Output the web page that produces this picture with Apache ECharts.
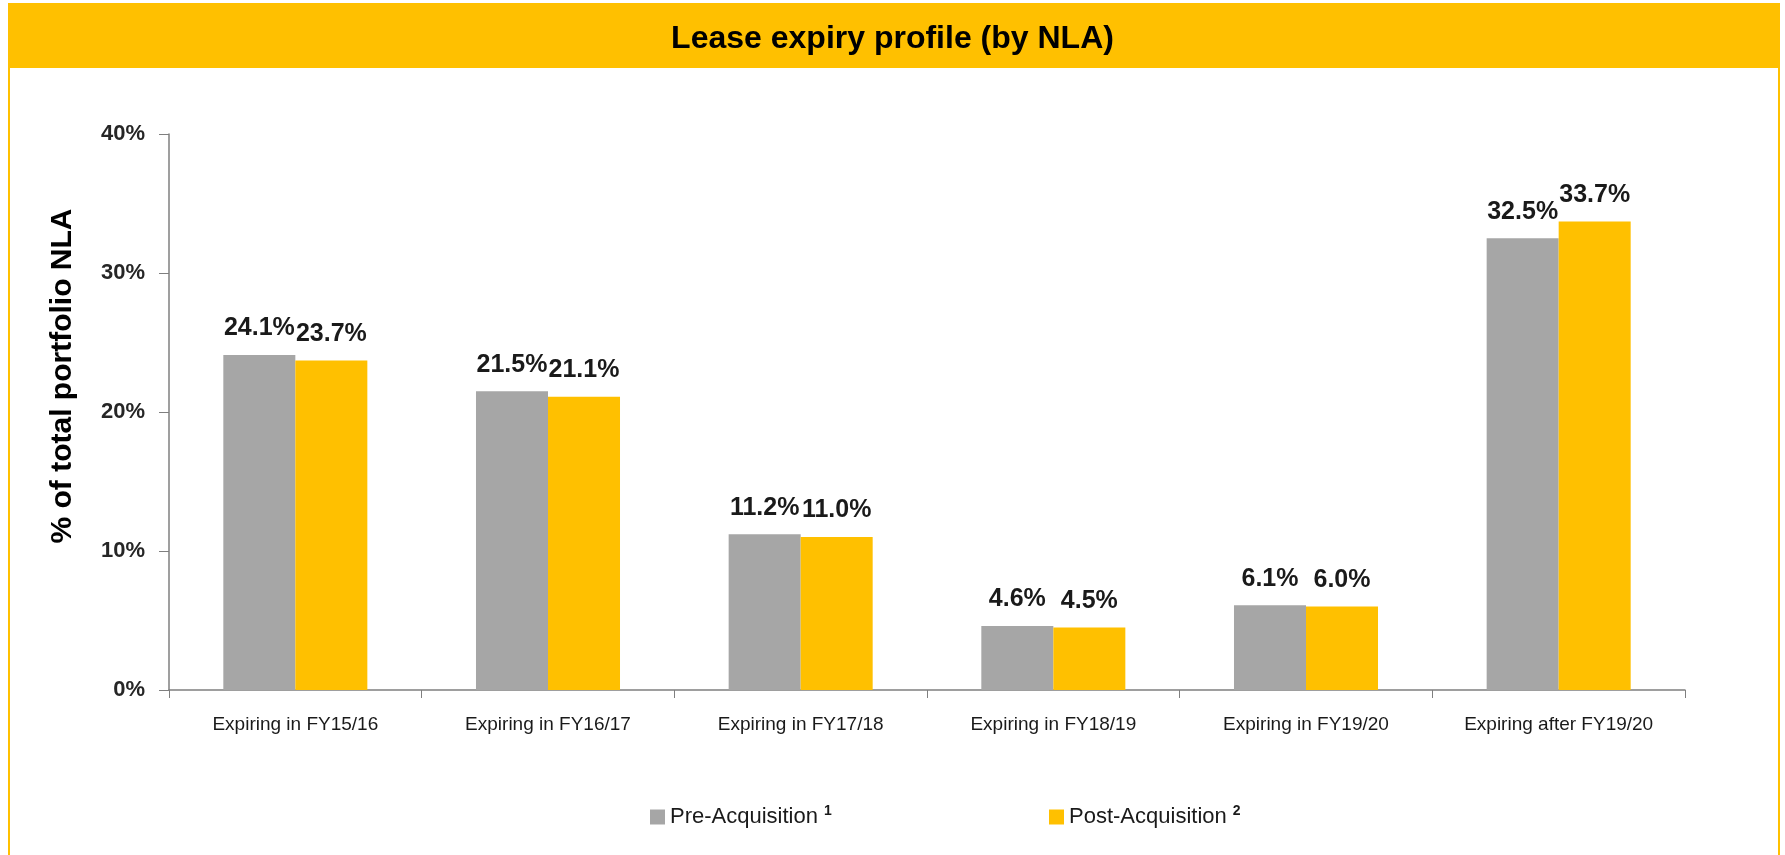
<!DOCTYPE html>
<html>
<head>
<meta charset="utf-8">
<script src="https://cdn.jsdelivr.net/npm/echarts@6/dist/echarts.min.js"></script>
<style>
  html, body { margin: 0; padding: 0; background: #fff; }
  #main { width: 1785px; height: 855px; }
</style>
</head>
<body>
<div id="main"></div>
<script>
// chart data
var categories = ['Expiring in FY15/16', 'Expiring in FY16/17', 'Expiring in FY17/18', 'Expiring in FY18/19', 'Expiring in FY19/20', 'Expiring after FY19/20'];
var preAcq = [24.1, 21.5, 11.2, 4.6, 6.1, 32.5];
var postAcq = [23.7, 21.1, 11.0, 4.5, 6.0, 33.7];
var yTicks = [0, 10, 20, 30, 40];

var font = "'Liberation Sans Narrow', 'Arial Narrow', 'Liberation Sans', sans-serif";
var gold = '#FFC000';
var grey = '#A6A6A6';

var chart = echarts.init(document.getElementById('main'));

var labelStyle = {
  show: true,
  position: 'top',
  distance: 14,
  fontFamily: font,
  fontWeight: 'bold',
  fontSize: 25,
  color: '#1a1a1a',
  formatter: function (p) { return p.value.toFixed(1) + '%'; }
};

var legendBase = {
  bottom: 22,
  itemWidth: 15,
  itemHeight: 15,
  icon: 'rect',
  textStyle: {
    fontFamily: font,
    fontSize: 22,
    color: '#1a1a1a',
    rich: {
      sup: { fontFamily: font, fontSize: 14, fontWeight: 'bold', verticalAlign: 'top', padding: [0, 0, 12, 0], color: '#1a1a1a' }
    }
  }
};

var option = {
  backgroundColor: '#fff',
  graphic: [
    { type: 'rect', shape: { x: 9, y: 4, width: 1770, height: 900 }, style: { fill: 'none', stroke: gold, lineWidth: 2 }, z: 1 },
    { type: 'rect', shape: { x: 9, y: 4, width: 1770, height: 64 }, style: { fill: gold }, z: 1 }
  ],
  title: {
    text: 'Lease expiry profile (by NLA)',
    left: 'center',
    top: 18,
    textStyle: { fontFamily: font, fontWeight: 'bold', fontSize: 32, color: '#000' }
  },
  legend: [
    Object.assign({}, legendBase, {
      left: 645,
      data: ['Pre-Acquisition'],
      formatter: function (n) { return n + ' {sup|1}'; }
    }),
    Object.assign({}, legendBase, {
      left: 1044,
      data: ['Post-Acquisition'],
      formatter: function (n) { return n + ' {sup|2}'; }
    })
  ],
  grid: { left: 169, right: 100, top: 134, bottom: 165, containLabel: false },
  xAxis: {
    type: 'category',
    data: categories,
    axisLine: { lineStyle: { color: '#7f7f7f', width: 1.5 } },
    axisTick: { show: true, length: 8, lineStyle: { color: '#7f7f7f' } },
    axisLabel: { fontFamily: font, fontSize: 19, color: '#1a1a1a', margin: 25, interval: 0 }
  },
  yAxis: {
    type: 'value',
    min: yTicks[0],
    max: yTicks[yTicks.length - 1],
    interval: 10,
    name: '% of total portfolio NLA',
    nameLocation: 'middle',
    nameGap: 91,
    nameTextStyle: { fontFamily: "'Liberation Sans', Arial, sans-serif", fontWeight: 'bold', fontSize: 30, color: '#000', padding: [0, 0, 0, 72] },
    axisLine: { show: true, lineStyle: { color: '#7f7f7f', width: 1.5 } },
    axisTick: { show: true, length: 10, lineStyle: { color: '#7f7f7f' } },
    splitLine: { show: false },
    axisLabel: { fontFamily: font, fontWeight: 'bold', fontSize: 22, color: '#262626', margin: 24, formatter: '{value}%' }
  },
  series: [
    {
      name: 'Pre-Acquisition',
      type: 'bar',
      data: preAcq,
      barGap: '0%',
      barCategoryGap: '43%',
      itemStyle: { color: grey },
      label: labelStyle
    },
    {
      name: 'Post-Acquisition',
      type: 'bar',
      data: postAcq,
      barGap: '0%',
      barCategoryGap: '43%',
      itemStyle: { color: gold },
      label: labelStyle
    }
  ]
};

chart.setOption(option);
</script>
</body>
</html>
